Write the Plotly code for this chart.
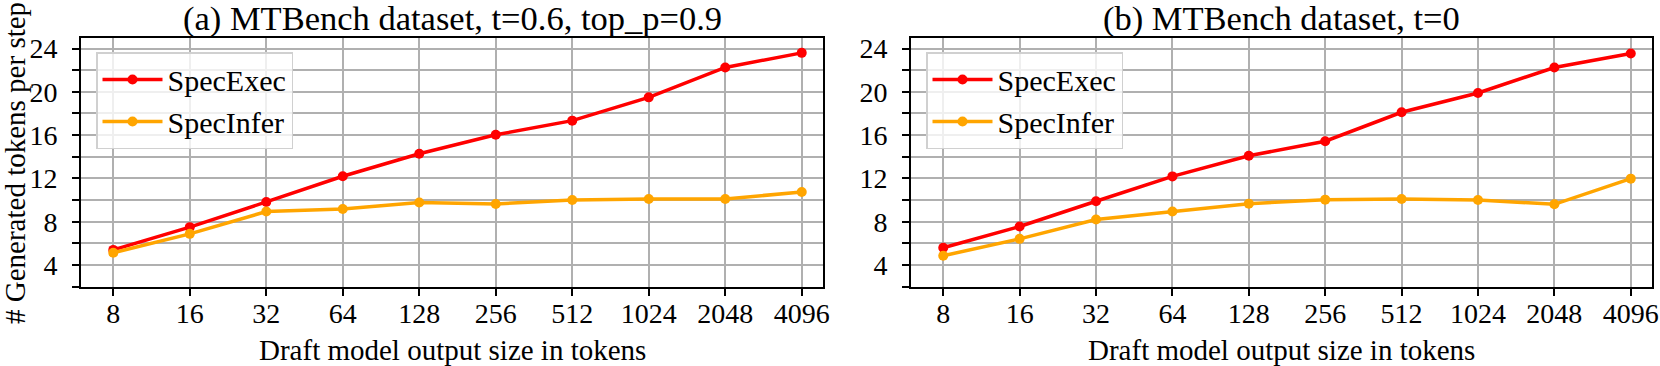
import plotly.graph_objects as go

categories = ["8", "16", "32", "64", "128", "256", "512", "1024", "2048", "4096"]

a_specexec = [5.4, 7.5, 9.83, 12.2, 14.28, 16.03, 17.34, 19.49, 22.25, 23.6]
a_specinfer = [5.13, 6.88, 8.94, 9.18, 9.77, 9.64, 10.01, 10.1, 10.1, 10.75]

b_specexec = [5.6, 7.56, 9.89, 12.19, 14.09, 15.44, 18.11, 19.89, 22.25, 23.54]
b_specinfer = [4.86, 6.42, 8.2, 8.94, 9.67, 10.04, 10.1, 10.01, 9.61, 11.98]

titles = ["(a) MTBench dataset, t=0.6, top_p=0.9", "(b) MTBench dataset, t=0"]
xlabel = "Draft model output size in tokens"
ylabel = "# Generated tokens per step"
series_names = ["SpecExec", "SpecInfer"]
colors = ["#ff0000", "#ffa500"]

W, H = 1660, 366
FONT = "Liberation Serif"

fig = go.Figure()

xpos = list(range(len(categories)))
panels = [(a_specexec, a_specinfer, "x", "y", "legend"),
          (b_specexec, b_specinfer, "x2", "y2", "legend2")]
for se, si, xa, ya, lg in panels:
    for name, vals, col in zip(series_names, [se, si], colors):
        fig.add_trace(go.Scatter(
            x=xpos, y=vals, name=name, mode="lines+markers",
            line=dict(color=col, width=3.5),
            marker=dict(color=col, size=10),
            xaxis=xa, yaxis=ya, legend=lg))

def px_x(p):
    return p / W

def px_y(p):
    return (H - p) / H

dom_y = [px_y(286.7), px_y(37.7)]
dom_a = [px_x(81), px_x(823.3)]
dom_b = [px_x(911), px_x(1652.3)]

axis_common = dict(
    showline=True, linecolor="black", linewidth=2, mirror=True,
    ticks="outside", ticklen=7, tickwidth=1.5, tickcolor="black",
    showgrid=True, gridcolor="#b0b0b0", gridwidth=1.5,
    zeroline=False,
    tickfont=dict(family=FONT, size=28, color="black"),
    automargin=False,
)

xaxis_common = dict(axis_common,
    tickmode="array", tickvals=xpos, ticktext=categories,
    range=[-0.422, 9.282], ticklabelstandoff=-6)

yaxis_common = dict(axis_common,
    range=[2, 25], tickmode="linear", tick0=0, dtick=4,
    ticklabelstandoff=9,
    minor=dict(dtick=2, tick0=0, showgrid=True, gridcolor="#b0b0b0",
               gridwidth=1.5, ticks="outside", ticklen=7, tickcolor="black",
               tickwidth=1.5))

legend_common = dict(
    font=dict(family=FONT, size=30, color="black"),
    bgcolor="rgba(255,255,255,0.8)", bordercolor="#d0d0d0", borderwidth=1.5,
    xanchor="left", yanchor="top", itemwidth=60, tracegroupgap=0,
)

fig.update_layout(
    width=W, height=H,
    margin=dict(l=0, r=0, t=0, b=0),
    paper_bgcolor="white", plot_bgcolor="white",
    font=dict(family=FONT, size=28, color="black"),
    xaxis=dict(xaxis_common, domain=dom_a, anchor="y"),
    yaxis=dict(yaxis_common, domain=dom_y, anchor="x"),
    xaxis2=dict(xaxis_common, domain=dom_b, anchor="y2"),
    yaxis2=dict(yaxis_common, domain=dom_y, anchor="x2"),
    legend=dict(legend_common, x=px_x(96), y=px_y(52)),
    legend2=dict(legend_common, x=px_x(926), y=px_y(52)),
    showlegend=True,
)

annotations = []
for t, dom in zip(titles, [dom_a, dom_b]):
    annotations.append(dict(
        text=t, x=(dom[0] + dom[1]) / 2, y=px_y(40), xref="paper", yref="paper",
        xanchor="center", yanchor="bottom", showarrow=False,
        font=dict(family=FONT, size=34.5, color="black")))
    annotations.append(dict(
        text=xlabel, x=(dom[0] + dom[1]) / 2, y=px_y(368), xref="paper", yref="paper",
        xanchor="center", yanchor="bottom", showarrow=False,
        font=dict(family=FONT, size=29, color="black")))
annotations.append(dict(
    text=ylabel, x=px_x(15), y=px_y(163), xref="paper", yref="paper",
    xanchor="center", yanchor="middle", textangle=-90, showarrow=False,
    font=dict(family=FONT, size=29, color="black")))
fig.update_layout(annotations=annotations)

fig.write_html("out.html", post_script="document.body.style.margin='0';",
               config={"displayModeBar": False})
